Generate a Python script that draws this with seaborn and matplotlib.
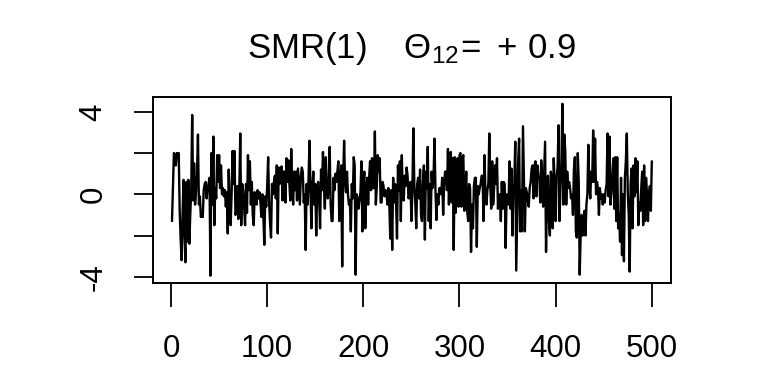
import pandas as pd
import matplotlib
matplotlib.use("Agg")
import matplotlib.pyplot as plt
import seaborn as sns

# simulated SMR(1) series (t = 1..500)
obs_001_100 = [
    -1.3, 0.4, 2.0, 1.9, 1.4, 2.0, 1.9, 2.0, -0.8, -2.2,
    -3.2, -1.0, 0.7, -2.0, -3.3, 0.6, -2.3, 0.7, -2.4, -1.0,
    0.2, 3.85, -0.3, 1.5, -0.5, 0.1, 1.0, 2.9, -0.5, -0.1,
    -1.1, -1.0, -1.1, 0.2, 0.5, 0.6, -0.2, 0.3, 0.5, 0.8,
    -3.95, 2.0, -0.5, 2.8, -1.5, 0.3, -0.2, 1.9, 0.6, 1.9,
    0.3, 1.4, 0.0, 0.3, -0.1, 0.2, -0.6, 0.1, -1.9, 1.2,
    -0.5, -1.5, 0.0, 2.1, 0.5, 2.1, -1.0, -0.8, 0.4, -1.2,
    0.2, 2.95, -1.5, 0.5, 0.2, -0.6, -1.5, 0.5, -0.9, 1.9,
    0.2, 1.6, -0.5, 0.6, -1.0, -1.5, 0.1, -0.3, -0.5, 0.2,
    -0.2, 0.1, -0.4, -1.1, 0.0, -1.0, -2.45, -0.1, -0.6, 0.4,
]
obs_101_200 = [
    1.8, -0.4, -1.4, -2.1, 0.5, 0.0, 0.6, 0.9, -0.2, 1.4,
    -1.9, 1.3, 0.5, 1.2, 1.35, -0.3, 1.1, 1.1, -0.4, 1.75,
    0.6, 1.65, 0.6, -0.3, 2.2, 0.4, -0.5, 1.1, 0.2, 1.1,
    -0.3, 1.25, 0.4, -0.5, 0.9, 1.3, 1.1, -0.4, 0.0, -2.7,
    0.5, -0.5, 0.7, 2.6, 0.2, -1.65, 0.4, 1.1, -0.5, 0.5,
    -2.0, 0.3, 0.6, -0.2, -1.65, 1.2, 0.2, 2.05, 0.5, -0.7,
    1.8, 0.3, -0.2, 0.5, 2.3, -0.5, -1.3, -1.3, 0.8, 0.2,
    1.0, 0.6, 1.1, 1.6, -1.3, 0.6, 1.4, -3.5, 0.8, 2.6,
    0.6, 0.1, 1.1, 0.0, -0.5, -0.3, -1.8, 0.5, -0.2, 1.8,
    1.4, -3.9, 0.0, -0.2, -0.7, -0.3, 0.1, 1.6, -1.8, 0.3,
]
obs_201_300 = [
    1.1, -1.65, 0.0, 0.8, -0.5, 0.8, 1.6, 0.2, 1.75, 0.3,
    0.3, 3.05, -0.5, 0.4, 1.9, 1.1, 1.75, -0.4, -0.4, 0.6,
    0.4, -0.1, 0.2, 0.1, -0.5, 0.3, -0.4, -2.15, 0.2, -2.7,
    0.8, -0.4, 0.5, -0.3, -2.15, 1.4, 0.2, 1.6, -1.3, 1.9,
    0.0, -0.3, 0.9, 0.4, 1.3, 0.9, -0.2, 0.0, 0.6, -1.3,
    0.2, 3.2, 0.5, -0.4, -1.65, 0.5, 0.8, -0.2, 1.2, -1.0,
    -1.3, 0.6, 1.4, -2.2, 1.1, 0.3, 2.3, -1.3, 0.5, -1.65,
    1.1, 0.3, 0.8, 2.7, 0.2, -1.25, 0.0, -0.5, 0.3, 0.3,
    0.0, 0.8, -1.0, 0.4, 1.1, 1.1, 0.2, 2.2, -0.5, 1.5,
    2.05, -0.4, 1.75, -2.7, 1.8, -0.9, 0.3, 1.75, -0.6, 1.9,
]
obs_301_400 = [
    2.0, -0.6, 1.75, 1.9, -0.8, 0.0, 1.1, -0.8, -1.3, 0.5,
    0.3, -2.8, -0.5, -1.65, 0.4, 0.8, 0.8, -2.55, 0.4, 0.0,
    0.3, 0.5, 0.9, 0.9, -1.3, 1.9, 0.0, -0.5, 0.2, 0.5,
    2.95, 0.4, -0.7, 1.6, -0.5, 0.3, 1.4, 0.5, 1.75, -0.7,
    -0.2, 0.0, -1.3, 0.6, -0.7, 0.6, 0.5, -2.6, 0.0, -0.3,
    -0.5, 1.6, -0.7, 1.25, -2.0, 0.0, 0.5, 2.55, -3.7, -1.0,
    1.6, 2.7, -1.8, 0.2, -1.8, 3.3, 0.6, -1.8, 0.3, 0.1,
    -0.3, -0.6, 0.3, 0.6, 1.25, 1.4, -0.2, 1.4, 1.6, -0.1,
    1.4, 0.9, 0.8, -0.4, 1.65, 0.6, -0.6, 1.0, 2.55, -2.8,
    0.1, 0.9, -1.3, -2.0, 1.1, 0.6, -1.65, 1.75, 0.5, -1.3,
]
obs_401_500 = [
    0.8, 1.3, 3.35, -1.3, 0.3, 1.5, 4.39, -0.5, 2.9, 2.1,
    -0.5, 1.1, 0.3, 0.6, 0.3, -0.2, 0.0, -1.0, 1.2, 1.8,
    -1.8, -2.1, 2.0, 0.6, -3.9, -2.0, -1.0, -2.0, -1.3, -0.8,
    -2.0, -0.5, 0.0, 2.4, 0.4, -0.2, 1.1, 0.6, 3.1, 0.6,
    2.7, 0.0, 0.6, 0.3, -1.0, 0.3, -0.2, 0.0, -0.5, 0.0,
    -0.4, 0.2, 0.5, 2.95, -0.1, 2.8, -0.5, 0.1, 0.9, 1.75,
    -0.7, 1.8, -1.3, 1.8, -1.65, -1.0, -2.3, 0.8, -2.95, 0.0,
    -3.25, 0.8, 1.6, 2.95, 0.1, -1.0, -3.75, 0.6, 1.25, -1.65,
    1.4, -0.1, 1.75, 0.1, 1.6, -1.5, -0.4, -0.8, 0.3, 1.1,
    -1.5, 1.4, -1.3, 0.8, 0.0, -1.3, 0.0, 0.4, -0.8, 1.6,
]

x_ticks = [0, 100, 200, 300, 400, 500]
y_ticks = [-4, -2, 0, 2, 4]
y_tick_labels = ["-4", "", "0", "", "4"]
title = r"SMR$(1)\quad\;\Theta_{12}\!=\,+\,0.9$"

values = obs_001_100 + obs_101_200 + obs_201_300 + obs_301_400 + obs_401_500
df = pd.DataFrame({"time": range(1, len(values) + 1), "value": values})

sns.set_style("white")
plt.rcParams["font.family"] = ["Liberation Sans", "DejaVu Sans"]
plt.rcParams["axes.unicode_minus"] = False
plt.rcParams["text.color"] = "black"
plt.rcParams["mathtext.fontset"] = "custom"
plt.rcParams["mathtext.rm"] = "Liberation Sans"
plt.rcParams["mathtext.it"] = "Liberation Sans:italic"

W, H = 768, 384
fig = plt.figure(figsize=(W / 100, H / 100), dpi=100)
ax = fig.add_axes([152.8 / W, 1 - 282.5 / H, (671 - 152.8) / W, (282.5 - 97) / H])

sns.lineplot(data=df, x="time", y="value", color="black", linewidth=1.7, ax=ax)

ax.set_xlim(-18.96, 519.96)
ax.set_ylim(-4.28, 4.72)
ax.set_xticks(x_ticks)
ax.set_xticklabels([str(v) for v in x_ticks])
ax.set_yticks(y_ticks)
ax.set_yticklabels(y_tick_labels, rotation=90, va="center")
ax.set_xlabel("")
ax.set_ylabel("")

ax.tick_params(axis="x", bottom=True, direction="out", length=17, width=1.3,
               pad=20, labelsize=22.5, colors="black")
ax.tick_params(axis="y", left=True, direction="out", length=14, width=1.3,
               pad=18, labelsize=22.5, colors="black")
for s in ax.spines.values():
    s.set_visible(True)
    s.set_color("black")
    s.set_linewidth(1.4)

fig.text((152.8 + 671) / 2 / W, 1 - 58 / H, title, ha="center", va="baseline",
         fontsize=25, color="black")

fig.savefig("out.png", dpi=100)
plt.close()
